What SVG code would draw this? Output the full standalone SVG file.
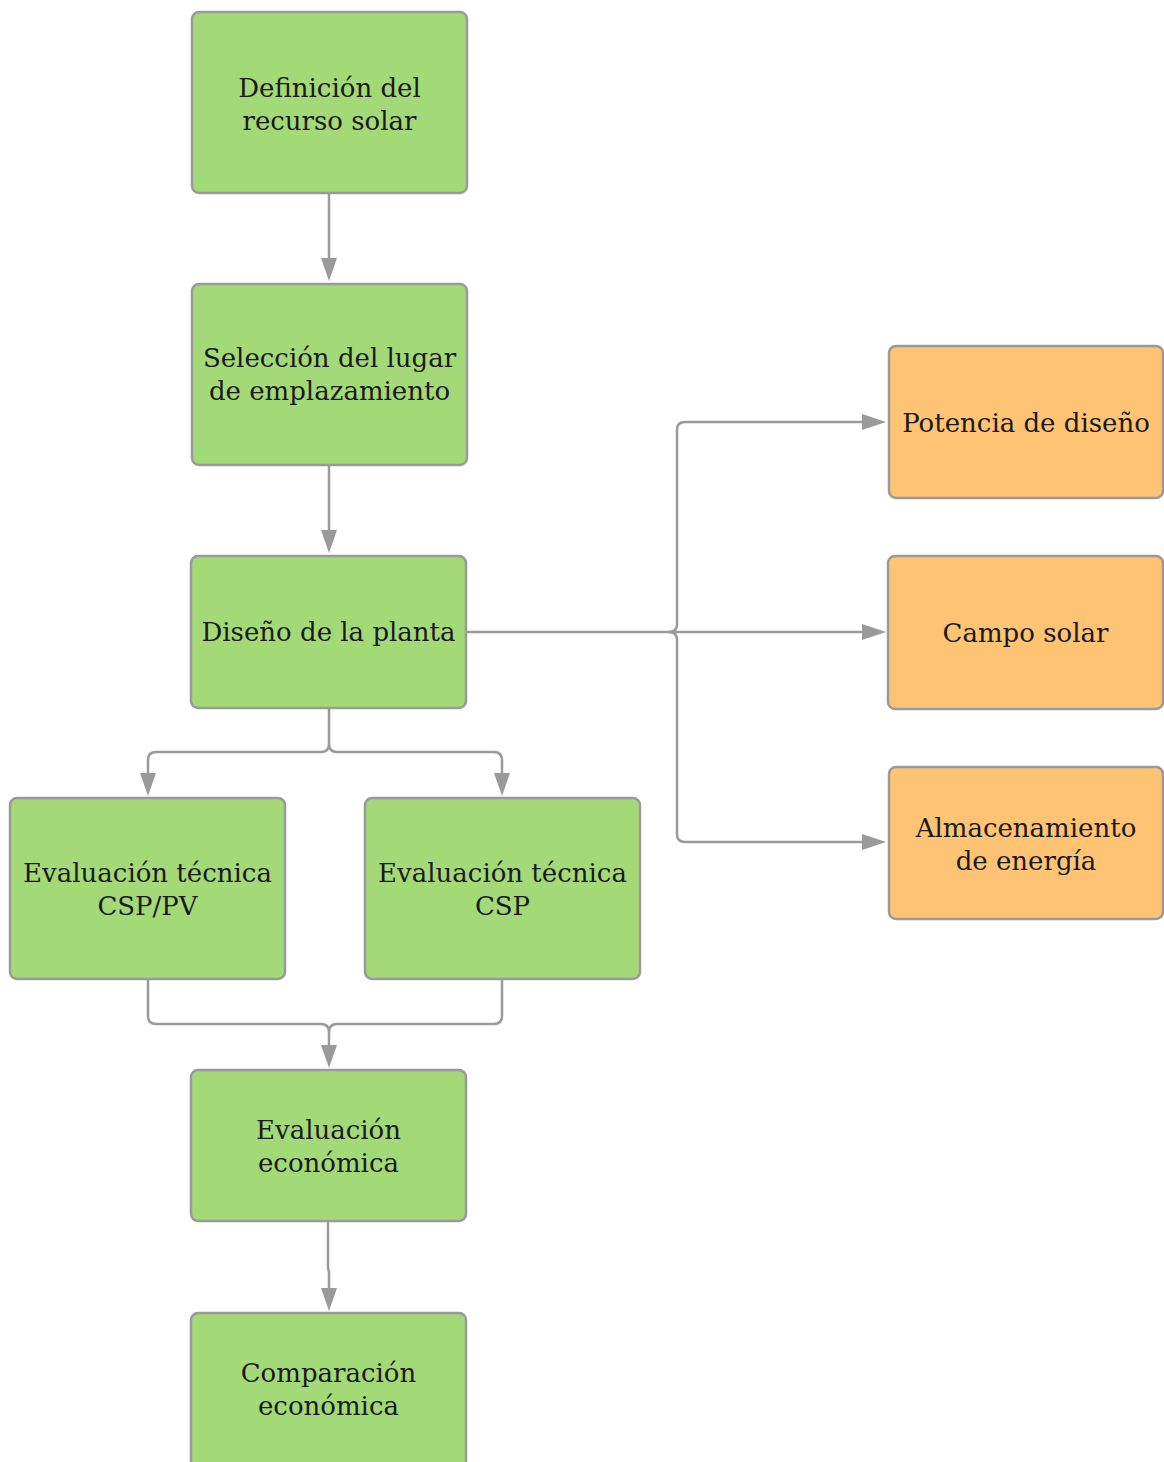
<svg xmlns="http://www.w3.org/2000/svg" width="1164" height="1462" viewBox="0 0 1164 1462">
<style>
.g{fill:#a3d977;stroke:#9a9a9a;stroke-width:2.5}
.o{fill:#ffc374;stroke:#9a9a9a;stroke-width:2.5}
.t{font-family:"DejaVu Serif","Liberation Serif",serif;font-size:26px;fill:#1a1a1a;text-anchor:middle}
.c{fill:none;stroke:#9a9a9a;stroke-width:2.5}
.h{fill:#9a9a9a}
</style>
<rect width="1164" height="1462" fill="#fff"/>
<g id="connectors">
<path class="c" d="M329,194V260"/>
<path class="h" d="M321,258L329,281L337,258z"/>
<path class="c" d="M329,466V532"/>
<path class="h" d="M321,530L329,553L337,530z"/>
<path class="c" d="M329,709V744Q329,752 321,752H156Q148,752 148,760V775"/>
<path class="c" d="M329,744Q329,752 337,752H494Q502,752 502,760V775"/>
<path class="h" d="M140,773L148,796L156,773z"/>
<path class="h" d="M494,773L502,796L510,773z"/>
<path class="c" d="M467,632H864"/>
<path class="c" d="M669,632Q677,632 677,624V430Q677,422 685,422H864"/>
<path class="c" d="M669,632Q677,632 677,640V834Q677,842 685,842H864"/>
<path class="h" d="M862,414L886,422L862,430z"/>
<path class="h" d="M862,624L886,632L862,640z"/>
<path class="h" d="M862,834L886,842L862,850z"/>
<path class="c" d="M148,980V1016Q148,1024 156,1024H321Q329,1024 329,1032V1047"/>
<path class="c" d="M502,980V1016Q502,1024 494,1024H337Q329,1024 329,1032"/>
<path class="h" d="M321,1045L329,1068L337,1045z"/>
<path class="c" d="M328,1222V1268L329,1272V1290"/>
<path class="h" d="M321,1288L329,1311L337,1288z"/>
</g>
<g id="n1"><rect class="g" x="192" y="12" width="275" height="181" rx="7"/><text class="t" x="329.500" y="97">Definición del</text><text class="t" x="329.500" y="130">recurso solar</text></g>
<g id="n2"><rect class="g" x="192" y="284" width="275" height="181" rx="7"/><text class="t" x="329.500" y="367">Selección del lugar</text><text class="t" x="329.500" y="400">de emplazamiento</text></g>
<g id="n3"><rect class="g" x="191" y="556" width="275" height="152" rx="7"/><text class="t" x="328.500" y="641">Diseño de la planta</text></g>
<g id="n4"><rect class="g" x="10" y="798" width="275" height="181" rx="7"/><text class="t" x="147.500" y="882">Evaluación técnica</text><text class="t" x="147.500" y="915">CSP/PV</text></g>
<g id="n5"><rect class="g" x="365" y="798" width="275" height="181" rx="7"/><text class="t" x="502.500" y="882">Evaluación técnica</text><text class="t" x="502.500" y="915">CSP</text></g>
<g id="n6"><rect class="g" x="191" y="1070" width="275" height="151" rx="7"/><text class="t" x="328.500" y="1139">Evaluación</text><text class="t" x="328.500" y="1172">económica</text></g>
<g id="n7"><rect class="g" x="191" y="1313" width="275" height="181" rx="7"/><text class="t" x="328.500" y="1382">Comparación</text><text class="t" x="328.500" y="1415">económica</text></g>
<g id="n8"><rect class="o" x="889" y="346" width="274" height="152" rx="7"/><text class="t" x="1026" y="432">Potencia de diseño</text></g>
<g id="n9"><rect class="o" x="888" y="556" width="275" height="153" rx="7"/><text class="t" x="1025.500" y="642">Campo solar</text></g>
<g id="n10"><rect class="o" x="889" y="767" width="274" height="152" rx="7"/><text class="t" x="1026" y="837">Almacenamiento</text><text class="t" x="1026" y="870">de energía</text></g>
</svg>
